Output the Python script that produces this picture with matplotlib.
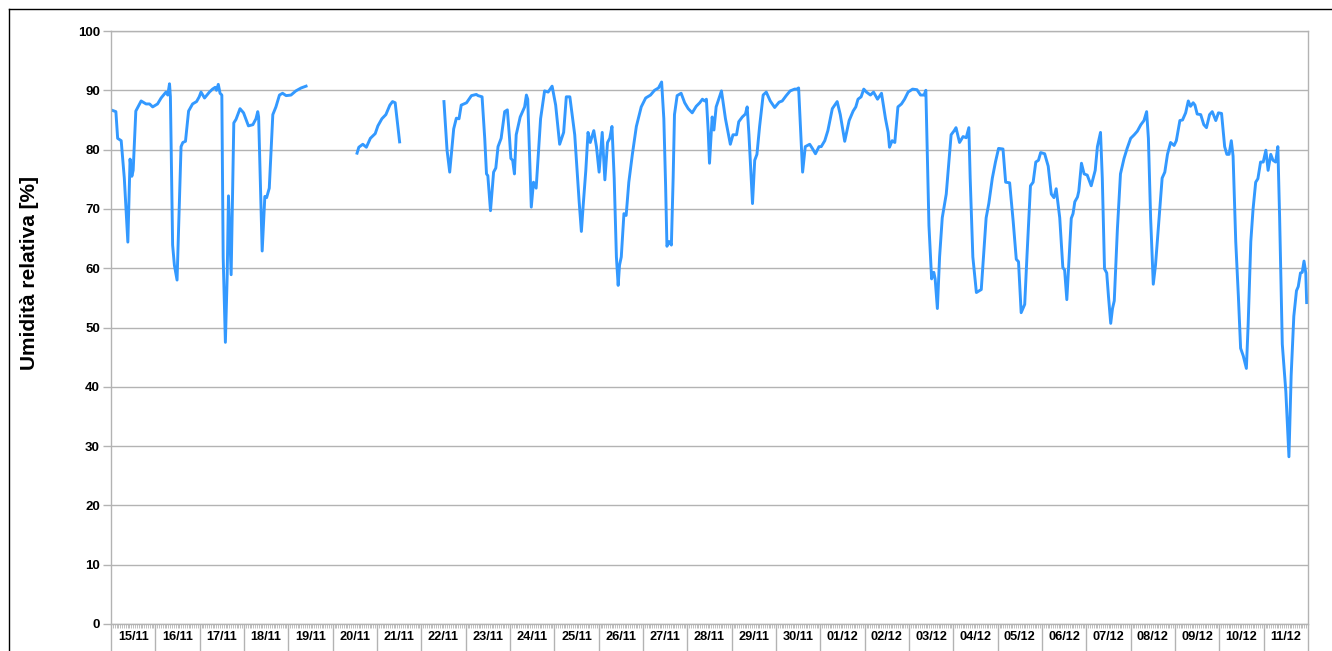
import numpy as np
import matplotlib
matplotlib.use("Agg")
import matplotlib.pyplot as plt
from matplotlib.lines import Line2D
import matplotlib.transforms as mtransforms

# ---- data: time in days since 15/11 00:00, relative humidity [%] ----
day_labels = ["15/11", "16/11", "17/11", "18/11", "19/11", "20/11", "21/11",
              "22/11", "23/11", "24/11", "25/11", "26/11", "27/11", "28/11",
              "29/11", "30/11", "01/12", "02/12", "03/12", "04/12", "05/12",
              "06/12", "07/12", "08/12", "09/12", "10/12", "11/12"]

seg1_t = [0.00, 0.11, 0.15, 0.23, 0.30, 0.38, 0.43, 0.47, 0.50, 0.56, 0.68, 0.79,
          0.87, 0.94, 1.05, 1.13, 1.24, 1.28, 1.32, 1.34, 1.39, 1.43, 1.49, 1.58,
          1.62, 1.68, 1.75, 1.84, 1.93, 1.99, 2.03, 2.11, 2.22, 2.29, 2.35, 2.38,
          2.42, 2.46, 2.50, 2.53, 2.58, 2.62, 2.65, 2.71, 2.77, 2.82, 2.91, 2.99,
          3.10, 3.20, 3.27, 3.31, 3.33, 3.37, 3.41, 3.47, 3.51, 3.57, 3.65, 3.72,
          3.80, 3.87, 3.95, 4.06, 4.17, 4.29, 4.40]
seg1_v = [86.7, 86.4, 81.9, 81.5, 75.2, 64.4, 78.4, 75.5, 76.5, 86.5, 88.2, 87.7,
          87.7, 87.2, 87.7, 88.7, 89.7, 89.2, 91.1, 88.9, 63.9, 60.5, 58.0, 80.5,
          81.2, 81.4, 86.5, 87.7, 88.1, 88.9, 89.7, 88.7, 89.7, 90.2, 90.5, 90.0,
          91.0, 89.5, 89.2, 61.9, 47.5, 58.5, 72.2, 58.9, 84.5, 85.1, 86.9, 86.2,
          84.0, 84.2, 85.2, 86.4, 85.5, 73.9, 62.9, 72.1, 71.9, 73.5, 85.9, 87.2,
          89.2, 89.5, 89.1, 89.2, 89.9, 90.4, 90.7]

seg2_t = [5.55, 5.59, 5.68, 5.76, 5.85, 5.96, 6.02, 6.11, 6.20, 6.29, 6.35, 6.41,
          6.45, 6.51]
seg2_v = [79.4, 80.4, 80.9, 80.4, 81.9, 82.7, 84.0, 85.2, 85.9, 87.5, 88.1, 87.9,
          85.2, 81.3]

seg3_t = [7.51, 7.58, 7.64, 7.73, 7.79, 7.85, 7.90, 8.02, 8.13, 8.24, 8.28, 8.37,
          8.43, 8.47, 8.50, 8.56, 8.63, 8.68, 8.73, 8.80, 8.88, 8.94, 8.99, 9.02,
          9.06, 9.10, 9.14, 9.23, 9.33, 9.37, 9.40, 9.48, 9.53, 9.59, 9.69, 9.78,
          9.86, 9.95, 10.03, 10.12, 10.21, 10.27, 10.35, 10.46, 10.56, 10.61, 10.65,
          10.71, 10.76, 10.81, 10.89, 10.95, 11.01, 11.08, 11.14, 11.20, 11.25,
          11.30, 11.35, 11.40, 11.44, 11.47, 11.51, 11.57, 11.62, 11.68, 11.76,
          11.85, 11.96, 12.06, 12.17, 12.26, 12.35, 12.42, 12.47, 12.51, 12.54,
          12.59, 12.64, 12.68, 12.71, 12.77, 12.86, 12.94, 13.02, 13.11, 13.20,
          13.28, 13.34, 13.39, 13.43, 13.47, 13.50, 13.56, 13.60, 13.65, 13.77,
          13.86, 13.92, 13.97, 14.03, 14.11, 14.16, 14.24, 14.31, 14.35, 14.39,
          14.47, 14.52, 14.57, 14.63, 14.71, 14.78, 14.87, 14.97, 15.07, 15.14,
          15.23, 15.32, 15.42, 15.47, 15.51, 15.56, 15.60, 15.66, 15.76, 15.82,
          15.89, 15.97, 16.02, 16.10, 16.17, 16.27, 16.38, 16.45, 16.55, 16.65,
          16.74, 16.80, 16.85, 16.92, 16.98, 17.04, 17.13, 17.20, 17.29, 17.38,
          17.47, 17.53, 17.56, 17.62, 17.68, 17.75, 17.83, 17.90, 17.98, 18.08,
          18.18, 18.26, 18.34, 18.38, 18.41, 18.45, 18.51, 18.56, 18.59, 18.64,
          18.69, 18.75, 18.84, 18.90, 18.95, 19.02, 19.06, 19.14, 19.22, 19.29,
          19.35, 19.38, 19.44, 19.52, 19.63, 19.68, 19.74, 19.80, 19.88, 19.95,
          20.02, 20.12, 20.18, 20.27, 20.35, 20.42, 20.47, 20.53, 20.61, 20.66,
          20.74, 20.80, 20.86, 20.92, 20.97, 21.06, 21.14, 21.21, 21.27, 21.32,
          21.40, 21.47, 21.51, 21.56, 21.61, 21.66, 21.70, 21.74, 21.80, 21.83,
          21.89, 21.95, 22.02, 22.11, 22.20, 22.25, 22.32, 22.36, 22.41, 22.46,
          22.50, 22.55, 22.59, 22.63, 22.70, 22.77, 22.85, 22.92, 23.00, 23.08,
          23.15, 23.23, 23.30, 23.36, 23.40, 23.45, 23.51, 23.56, 23.65, 23.71,
          23.77, 23.83, 23.90, 23.98, 24.03, 24.11, 24.17, 24.24, 24.30, 24.35,
          24.41, 24.45, 24.50, 24.58, 24.65, 24.71, 24.78, 24.84, 24.92, 24.98,
          25.05, 25.12, 25.17, 25.22, 25.27, 25.31, 25.37, 25.43, 25.48, 25.54,
          25.61, 25.65, 25.71, 25.76, 25.82, 25.87, 25.93, 25.99, 26.05, 26.10,
          26.16, 26.21, 26.27, 26.32, 26.36, 26.42, 26.50, 26.53, 26.57, 26.62,
          26.68, 26.74, 26.78, 26.83, 26.87, 26.91, 26.95, 26.97]
seg3_v = [88.1, 79.9, 76.2, 83.5, 85.3, 85.2, 87.5, 87.9, 89.1, 89.3, 89.1, 88.9,
          81.9, 75.9, 75.6, 69.7, 76.2, 76.9, 80.5, 81.9, 86.4, 86.7, 81.9, 78.5,
          78.2, 75.9, 82.5, 85.5, 87.2, 89.2, 88.5, 70.3, 74.5, 73.5, 85.2, 89.9,
          89.7, 90.7, 87.5, 80.9, 82.9, 88.9, 88.9, 82.5, 71.2, 66.2, 70.5,
          76.5, 82.9, 81.2, 83.2, 80.5, 76.2, 82.9, 74.9, 81.2, 81.9,
          83.9, 75.2, 61.9, 57.1, 60.5, 61.9, 69.2, 68.9, 74.5, 79.2,
          83.9, 87.2, 88.7, 89.2, 90.0, 90.4, 91.4, 85.2, 73.9, 63.7,
          64.5, 63.9, 75.2, 85.9, 89.1, 89.5, 87.9, 86.9, 86.2, 87.3,
          87.9, 88.5, 88.2, 88.5, 83.2, 77.7, 85.5, 83.3, 87.2, 89.9,
          85.2, 82.9, 80.9, 82.5, 82.5, 84.7, 85.5, 86.0, 87.2, 82.5,
          70.9, 78.2, 79.2, 83.9, 89.2, 89.7, 88.2, 87.1, 88.0, 88.2,
          89.1, 89.9, 90.2, 90.2, 90.4, 82.5, 76.2, 80.5, 80.9, 80.2,
          79.3, 80.5, 80.5, 81.5, 83.2, 86.9, 88.1, 85.9, 81.4, 84.9,
          86.5, 87.2, 88.5, 88.9, 90.2, 89.7, 89.2, 89.7, 88.5, 89.5,
          85.2, 82.9, 80.4, 81.5, 81.2, 87.2, 87.7, 88.5, 89.7, 90.2,
          90.1, 89.2, 89.2, 90.0, 79.9, 67.2, 58.2, 59.3, 58.2, 53.2,
          61.9, 68.5, 72.5, 77.9, 82.5, 83.2, 83.7, 81.2, 82.2, 82.0,
          83.7, 75.2, 61.9, 55.9, 56.4, 61.9, 68.5, 70.9, 75.2, 77.9,
          80.2, 80.1, 74.5, 74.4, 67.9, 61.5, 61.1, 52.5, 53.9, 61.9,
          73.9, 74.5, 77.9, 78.2, 79.5, 79.3, 77.2, 72.5, 71.9, 73.4,
          68.5, 60.1, 59.7, 54.7, 61.7, 68.4, 69.2, 71.2, 72.0, 73.0,
          77.7, 75.9, 75.7, 73.9, 76.5, 80.5, 82.9, 75.2, 59.9, 59.2,
          55.2, 50.7, 53.2, 54.5, 66.5, 75.9, 78.5, 80.2, 81.9, 82.5,
          83.1, 84.2, 84.9, 86.4, 81.9, 68.5, 57.3, 60.5, 69.2, 75.2,
          76.2, 79.2, 81.2, 80.7, 81.5, 84.9, 85.0, 86.2, 88.2, 87.3,
          87.9, 87.5, 86.0, 85.9, 84.2, 83.7, 85.9, 86.4, 84.9, 86.2,
          86.1, 80.5, 79.2, 79.2, 81.5, 78.9, 64.5, 55.2, 46.5, 45.2,
          43.1, 50.5, 64.5, 69.9, 74.5, 75.1, 77.9, 77.9, 79.9, 76.5,
          79.2, 78.2, 77.9, 80.5, 68.5, 47.2, 39.2, 34.5, 28.2, 41.9,
          51.9, 56.2, 56.9, 59.2, 59.3, 61.2, 59.2, 54.2]

t_days = seg1_t + [4.9] + seg2_t + [7.0] + seg3_t
rh = seg1_v + [np.nan] + seg2_v + [np.nan] + seg3_v

y_ticks = list(range(0, 101, 10))

# ---- figure ----
W, H = 1332, 651
fig = plt.figure(figsize=(W / 100, H / 100), dpi=100)
ax = fig.add_axes([111 / W, 1 - 624 / H, (1308 - 111) / W, (624 - 31) / H])

grey = "#b3b3b3"
line_col = "#3399ff"
ax.plot(t_days, rh, color=line_col, lw=2.1, solid_joinstyle="round")

n_days = len(day_labels)
ax.set_xlim(0, n_days)
ax.set_ylim(0, 100)

ax.set_yticks(y_ticks)
ax.set_yticklabels([str(v) for v in y_ticks], fontsize=9.5, fontweight="bold",
                   fontfamily="Liberation Sans")
ax.yaxis.grid(True, color=grey, lw=1)
ax.set_axisbelow(True)
ax.tick_params(axis="y", length=6, width=1, color=grey, pad=2)

ax.set_xticks(np.arange(0, n_days + 1, 1))
ax.set_xticklabels([])
ax.set_xticks(np.arange(0, n_days, 1 / 24), minor=True)
ax.tick_params(axis="x", which="major", length=21, width=1, color=grey)
ax.tick_params(axis="x", which="minor", length=3, width=0.6, color=grey)

trans = mtransforms.blended_transform_factory(ax.transData, ax.transAxes)
for i, lab in enumerate(day_labels):
    ax.text(i + 0.5, -0.0215, lab, transform=trans, ha="center", va="center",
            fontsize=9.2, fontweight="bold", fontfamily="Liberation Sans")

for s in ax.spines.values():
    s.set_color(grey)
    s.set_linewidth(1)

fig.text(30 / W, 1 - 273 / H, "Umidità relativa [%]", rotation=90,
         ha="center", va="center", fontsize=15, fontweight="bold",
         fontfamily="Liberation Sans")

# outer frame (left and top edges visible)
fig.add_artist(Line2D([8.5 / W, 8.5 / W], [0, 1 - 8.5 / H], color="black",
                      lw=1, transform=fig.transFigure))
fig.add_artist(Line2D([8.5 / W, 1], [1 - 8.5 / H, 1 - 8.5 / H], color="black",
                      lw=1, transform=fig.transFigure))

fig.savefig("out.png", dpi=100)
